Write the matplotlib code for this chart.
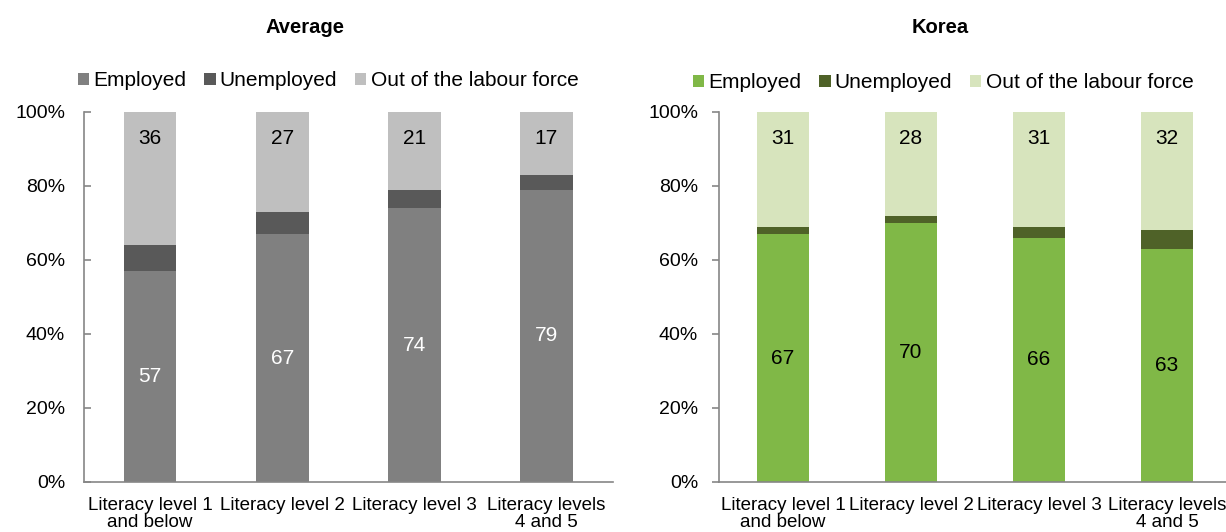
import matplotlib
matplotlib.use("Agg")
import matplotlib.pyplot as plt
import numpy as np

plt.rcParams['font.family'] = ['Liberation Sans', 'DejaVu Sans']

categories = ["Literacy level 1\nand below", "Literacy level 2",
              "Literacy level 3", "Literacy levels\n4 and 5"]
series_names = ["Employed", "Unemployed", "Out of the labour force"]

avg_employed = [57, 67, 74, 79]
avg_unemployed = [7, 6, 5, 4]
avg_out = [36, 27, 21, 17]

kor_employed = [67, 70, 66, 63]
kor_unemployed = [2, 2, 3, 5]
kor_out = [31, 28, 31, 32]

yticks = [0, 20, 40, 60, 80, 100]
ytick_labels = ["0%", "20%", "40%", "60%", "80%", "100%"]

avg_colors = ["#808080", "#595959", "#bfbfbf"]
kor_colors = ["#80b847", "#4f6228", "#d7e4bd"]

W, H = 1226, 532
fig = plt.figure(figsize=(W / 100, H / 100), dpi=100)

ax_avg = fig.add_axes([84 / W, 50 / H, 528.5 / W, 370 / H])
ax_kor = fig.add_axes([719 / W, 50 / H, 512 / W, 370 / H])


def draw_panel(ax, emp, unemp, out, colors, emp_text_color, tick_dir):
    x = np.arange(len(categories))
    emp = np.array(emp, dtype=float)
    unemp = np.array(unemp, dtype=float)
    out = np.array(out, dtype=float)
    b1 = ax.bar(x, emp, 0.4, color=colors[0], label=series_names[0])
    b2 = ax.bar(x, unemp, 0.4, bottom=emp, color=colors[1], label=series_names[1])
    b3 = ax.bar(x, out, 0.4, bottom=emp + unemp, color=colors[2], label=series_names[2])
    for xi, e, u, o in zip(x, emp, unemp, out):
        ax.text(xi, e / 2, f"{e:.0f}", ha="center", va="center",
                fontsize=15, color=emp_text_color)
        ax.annotate(f"{o:.0f}", xy=(xi, e + u + o), xytext=(0, -19),
                    textcoords="offset points", ha="center", va="center",
                    fontsize=15, color="black")
    ax.set_xlim(-0.5, len(categories) - 0.5)
    ax.set_ylim(0, 100)
    ax.set_yticks(yticks)
    ax.set_yticklabels(ytick_labels, fontsize=14)
    ax.set_xticks(x)
    ax.set_xticklabels(categories, fontsize=13.5, linespacing=1.0)
    ax.tick_params(axis="x", length=0, pad=11)
    ax.tick_params(axis="y", direction=tick_dir, length=5, color="#868686",
                   width=1.2, pad=10 if tick_dir == "out" else 13.5)
    for side in ["top", "right"]:
        ax.spines[side].set_visible(False)
    for side in ["left", "bottom"]:
        ax.spines[side].set_color("#868686")
        ax.spines[side].set_linewidth(1.2)
    return [b1, b2, b3]


h_avg = draw_panel(ax_avg, avg_employed, avg_unemployed, avg_out,
                   avg_colors, "white", "in")
h_kor = draw_panel(ax_kor, kor_employed, kor_unemployed, kor_out,
                   kor_colors, "black", "out")

legend_kw = dict(loc="center", ncol=3, frameon=False, fontsize=15,
                 handlelength=0.55, handleheight=0.55, handletextpad=0.2,
                 columnspacing=0.85, borderaxespad=0)
fig.legend(h_avg, series_names, bbox_to_anchor=(328 / W, 1 - 81 / H), **legend_kw)
fig.legend(h_kor, series_names, bbox_to_anchor=(943 / W, 1 - 83 / H), **legend_kw)

fig.text(305 / W, 1 - 28 / H, "Average", ha="center", va="center",
         fontsize=14.5, fontweight="bold")
fig.text(940 / W, 1 - 28 / H, "Korea", ha="center", va="center",
         fontsize=14.5, fontweight="bold")

fig.savefig("out.png", dpi=100)
